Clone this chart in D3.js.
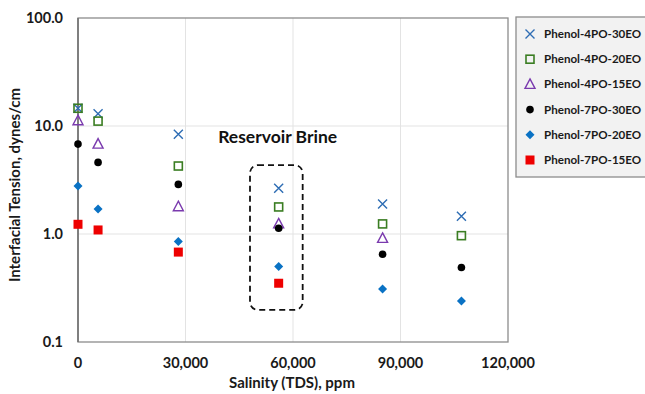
<!DOCTYPE html>
<html>
<head>
<meta charset="utf-8">
<script src="https://cdn.jsdelivr.net/npm/d3@7"></script>
<style>
  html, body { margin: 0; padding: 0; background: #fff; }
  svg { display: block; font-family: Lato, "Open Sans", sans-serif; }
</style>
</head>
<body>
<svg id="chart" width="645" height="394"></svg>
<script>
/* salinity (ppm) at each measured brine */
const salinity = [0, 5600, 28000, 56000, 85000, 107000];

/* interfacial tension, dynes/cm (null = not measured) */
const p4po30eo = [14.6, 13.0, 8.4, 2.65, 1.9, 1.46];
const p4po20eo = [14.6, 11.1, 4.26, 1.78, 1.24, 0.965];
const p4po15eo = [11.2, 6.8, 1.79, 1.24, 0.91, null];
const p7po30eo = [6.8, 4.6, 2.88, 1.13, 0.65, 0.49];
const p7po20eo = [2.78, 1.7, 0.85, 0.5, 0.31, 0.24];
const p7po15eo = [1.23, 1.09, 0.68, 0.35, null, null];

const seriesNames = ['Phenol-4PO-30EO', 'Phenol-4PO-20EO', 'Phenol-4PO-15EO',
  'Phenol-7PO-30EO', 'Phenol-7PO-20EO', 'Phenol-7PO-15EO'];
const xTicks = [0, 30000, 60000, 90000, 120000];
const yTicks = [0.1, 1, 10, 100];

/* brine box annotation, in data units */
const brineBox = { x0: 48000, x1: 62700, y0: 0.198, y1: 4.35 };
const brineLabel = { x: 56000, y: 7.0, text: 'Reservoir Brine' };

const series = [
  { name: seriesNames[0], vals: p4po30eo, shape: 'x', color: '#2E6DB4' },
  { name: seriesNames[1], vals: p4po20eo, shape: 'sq', color: '#3A7D22' },
  { name: seriesNames[2], vals: p4po15eo, shape: 'tri', color: '#7A3AAE' },
  { name: seriesNames[3], vals: p7po30eo, shape: 'dot', color: '#000000' },
  { name: seriesNames[4], vals: p7po20eo, shape: 'dia', color: '#0A72C4' },
  { name: seriesNames[5], vals: p7po15eo, shape: 'fsq', color: '#EE0000' },
];

const svg = d3.select('#chart');
const m = { l: 78, r: 508, t: 18, b: 342 };
const x = d3.scaleLinear().domain([0, 120000]).range([m.l, m.r]);
const y = d3.scaleLog().domain([0.1, 100]).range([m.b, m.t]);
const fmtX = d3.format(',');

// gridlines
svg.append('g').selectAll('line').data(xTicks.slice(1, -1)).join('line')
  .attr('x1', d => x(d)).attr('x2', d => x(d)).attr('y1', m.t).attr('y2', m.b)
  .attr('stroke', '#e3e3e3').attr('stroke-width', 1);
svg.append('g').selectAll('line').data(yTicks.slice(1, -1)).join('line')
  .attr('x1', m.l).attr('x2', m.r).attr('y1', d => y(d)).attr('y2', d => y(d))
  .attr('stroke', '#e3e3e3').attr('stroke-width', 1);

// plot frame
svg.append('rect').attr('x', m.l).attr('y', m.t).attr('width', m.r - m.l).attr('height', m.b - m.t)
  .attr('fill', 'none').attr('stroke', '#8c8c8c').attr('stroke-width', 1.3);
svg.append('line').attr('x1', m.l).attr('x2', m.l).attr('y1', m.t).attr('y2', m.b)
  .attr('stroke', '#6e6e6e').attr('stroke-width', 1.5);

// tick labels
svg.append('g').selectAll('text').data(xTicks).join('text')
  .attr('x', d => x(d)).attr('y', 368).attr('text-anchor', 'middle')
  .attr('font-size', 14.5).attr('font-weight', 700).attr('fill', '#1a1a1a')
  .text(d => fmtX(d));
svg.append('g').selectAll('text').data(yTicks).join('text')
  .attr('x', 63).attr('y', d => y(d) + 5).attr('text-anchor', 'end')
  .attr('font-size', 14.5).attr('font-weight', 700).attr('fill', '#1a1a1a')
  .text(d => d3.format('.1f')(d));

// axis titles
svg.append('text').attr('x', 292).attr('y', 388).attr('text-anchor', 'middle')
  .attr('font-size', 15).attr('font-weight', 700).attr('fill', '#1a1a1a')
  .text('Salinity (TDS), ppm');
svg.append('text').attr('transform', 'translate(20,185) rotate(-90)')
  .attr('text-anchor', 'middle')
  .attr('font-size', 15).attr('font-weight', 700).attr('fill', '#1a1a1a')
  .text('Interfacial Tension, dynes/cm');

// markers
function marker(g, shape, color) {
  if (shape === 'x') {
    g.append('path').attr('d', 'M-4.5,-4.5L4.5,4.5M-4.5,4.5L4.5,-4.5')
      .attr('stroke', color).attr('stroke-width', 1.4).attr('fill', 'none');
  } else if (shape === 'sq') {
    g.append('rect').attr('x', -4).attr('y', -4).attr('width', 8).attr('height', 8)
      .attr('fill', 'none').attr('stroke', color).attr('stroke-width', 1.6);
  } else if (shape === 'tri') {
    g.append('path').attr('d', 'M0,-5.5L5,4L-5,4Z')
      .attr('fill', 'none').attr('stroke', color).attr('stroke-width', 1.4);
  } else if (shape === 'dot') {
    g.append('circle').attr('r', 3.8).attr('fill', color);
  } else if (shape === 'dia') {
    g.append('path').attr('d', 'M0,-4.5L4.5,0L0,4.5L-4.5,0Z').attr('fill', color);
  } else if (shape === 'fsq') {
    g.append('rect').attr('x', -4.5).attr('y', -4.5).attr('width', 9).attr('height', 9).attr('fill', color);
  }
}

series.forEach(s => {
  const pts = salinity.map((sx, i) => [sx, s.vals[i]]).filter(p => p[1] != null);
  svg.append('g').selectAll('g').data(pts).join('g')
    .attr('transform', p => `translate(${x(p[0])},${y(p[1])})`)
    .each(function () { marker(d3.select(this), s.shape, s.color); });
});

// reservoir brine annotation
svg.append('rect')
  .attr('x', x(brineBox.x0)).attr('y', y(brineBox.y1))
  .attr('width', x(brineBox.x1) - x(brineBox.x0)).attr('height', y(brineBox.y0) - y(brineBox.y1))
  .attr('rx', 8).attr('ry', 8)
  .attr('fill', 'none').attr('stroke', '#111').attr('stroke-width', 1.8)
  .attr('stroke-dasharray', '6,4');
svg.append('text').attr('x', x(brineLabel.x) - 1).attr('y', y(brineLabel.y))
  .attr('text-anchor', 'middle').attr('font-size', 17.5).attr('font-weight', 700).attr('fill', '#111')
  .text(brineLabel.text);

// legend
const lg = svg.append('g');
lg.append('rect').attr('x', 516).attr('y', 17).attr('width', 135).attr('height', 160)
  .attr('fill', '#f2f2f2').attr('stroke', '#8c8c8c').attr('stroke-width', 1.3);
series.forEach((s, i) => {
  const row = lg.append('g').attr('transform', `translate(530,${34 + i * 25.2})`);
  marker(row, s.shape, s.color);
  row.append('text').attr('x', 14).attr('y', 4).attr('font-size', 11.6).attr('font-weight', 700)
    .attr('fill', '#1a1a1a').text(s.name);
});
</script>
</body>
</html>
